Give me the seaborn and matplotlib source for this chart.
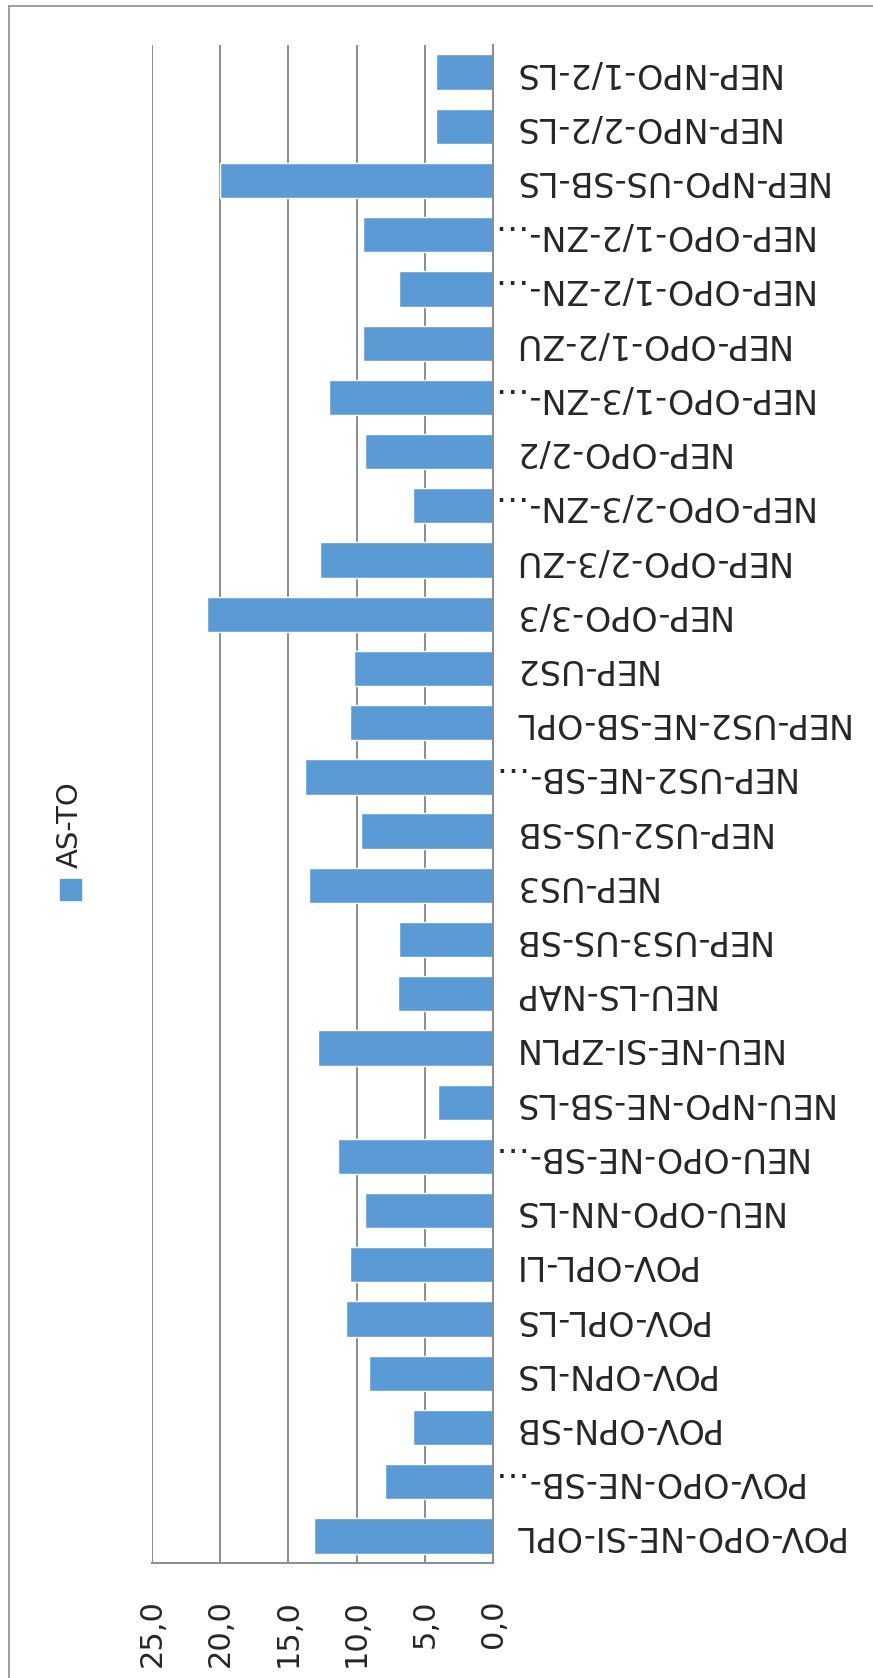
import numpy as np
import pandas as pd
import matplotlib
matplotlib.use('Agg')
import matplotlib.pyplot as plt
from matplotlib.patches import Rectangle
from matplotlib.transforms import ScaledTranslation
import seaborn as sns

# data (AS-TO)
categories = ['NEP-NPO-1/2-LS', 'NEP-NPO-2/2-LS', 'NEP-NPO-US-SB-LS',
              'NEP-OPO-1/2-ZN-…', 'NEP-OPO-1/2-ZN-…', 'NEP-OPO-1/2-ZU',
              'NEP-OPO-1/3-ZN-…', 'NEP-OPO-2/2', 'NEP-OPO-2/3-ZN-…',
              'NEP-OPO-2/3-ZU', 'NEP-OPO-3/3', 'NEP-US2', 'NEP-US2-NE-SB-OPL',
              'NEP-US2-NE-SB-…', 'NEP-US2-US-SB', 'NEP-US3', 'NEP-US3-US-SB',
              'NEU-LS-NAP', 'NEU-NE-SI-ZPLN', 'NEU-NPO-NE-SB-LS',
              'NEU-OPO-NE-SB-…', 'NEU-OPO-NN-LS', 'POV-OPL-LI', 'POV-OPL-LS',
              'POV-OPN-LS', 'POV-OPN-SB', 'POV-OPO-NE-SB-…', 'POV-OPO-NE-SI-OPL']
as_to = [4.2, 4.2, 20.0, 9.5, 6.9, 9.5, 12.0, 9.4, 5.9, 12.7, 21.0, 10.2, 10.5,
         13.8, 9.7, 13.5, 6.9, 7.0, 12.8, 4.0, 11.4, 9.4, 10.5, 10.8, 9.1, 5.9,
         7.9, 13.1]
ticks = [0, 5, 10, 15, 20, 25]
tick_labels = ['0,0', '5,0', '10,0', '15,0', '20,0', '25,0']

W, H = 873, 1678
sns.set_style('white')
plt.rcParams['font.family'] = ['DejaVu Sans']
grid_col = '#8c8c8c'
bar_col = '#5B9BD5'

fig = plt.figure(figsize=(W / 100, H / 100), dpi=100)
ax = fig.add_axes([152 / W, 1 - 1563 / H, (493 - 152) / W, (1563 - 45) / H])

# use position index as key so duplicated labels get their own bar
df = pd.DataFrame({'pos': [str(i) for i in range(len(categories))], 'val': as_to})
sns.barplot(data=df, x='val', y='pos', orient='h', color=bar_col, width=0.65,
            saturation=1, ax=ax)

ax.set_xlim(25, 0)
ax.set_xticks(ticks, tick_labels)
ax.set_xlabel('')
ax.set_ylabel('')
ax.xaxis.grid(True, color=grid_col, lw=1.4)
ax.set_axisbelow(True)
for s in ['top', 'left']:
    ax.spines[s].set_visible(False)
for s in ['bottom', 'right']:
    ax.spines[s].set_color(grid_col)
    ax.spines[s].set_linewidth(1.4)

ax.yaxis.tick_right()
ax.set_yticks(range(len(categories)), categories)
ax.tick_params(axis='y', length=0, pad=13, labelsize=24, labelrotation=180)
ax.tick_params(axis='x', length=0, pad=26, labelsize=22, labelrotation=90)
for lab in ax.get_yticklabels():
    lab.set_ha('left')
    lab.set_va('center')
    if lab.get_text().endswith('…'):
        # cut labels run up to the axis
        lab.set_transform(lab.get_transform() +
                          ScaledTranslation(-0.22, 0, fig.dpi_scale_trans))
for lab in ax.get_xticklabels():
    lab.set_ha('center')
    lab.set_va('top')

# legend, turned like the rest of the chart
fig.add_artist(Rectangle((60 / W, 1 - 900 / H), 21 / W, 21 / H,
                         transform=fig.transFigure, color=bar_col))
fig.text(70 / W, 1 - 868 / H, 'AS-TO', rotation=90, ha='center', va='bottom',
         fontsize=21)

# outer chart frame
fig.add_artist(Rectangle((9 / W, -0.1), 1.2, 1 - 6 / H + 0.1, fill=False,
                         transform=fig.transFigure, ec=grid_col, lw=1.2))

fig.savefig('out.png', dpi=100)
